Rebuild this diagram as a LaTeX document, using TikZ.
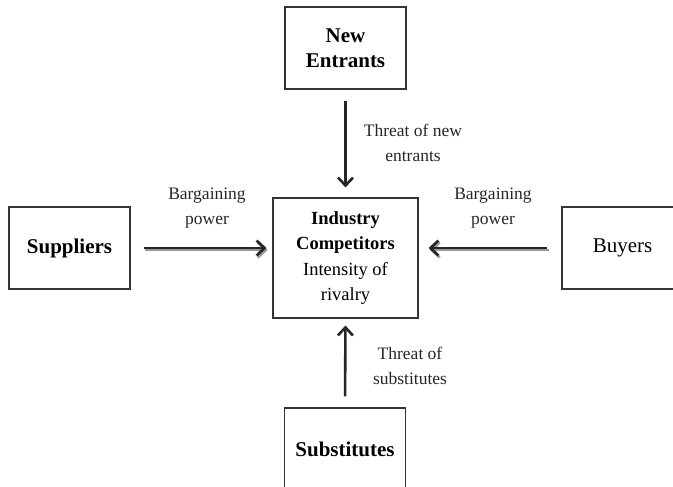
\documentclass[tikz,border=0pt]{standalone}
\usepackage{fontspec}
\setmainfont{Liberation Serif}
\usetikzlibrary{arrows.meta}
\begin{document}
\begin{tikzpicture}[x=1pt,y=-1pt,
  box/.style={draw=black!80, line width=1.1pt, minimum width=121pt, minimum height=82pt, inner sep=0pt, align=center, font=\fontsize{21}{25}\selectfont},
  lbl/.style={align=center, inner sep=0pt, font=\fontsize{17.5}{25}\selectfont, text=black!85},
  arr/.style={draw=black!85, line width=2.6pt, -{Straight Barb[length=8pt,width=15pt]}},
  shadowarr/.style={draw=black!40, line width=2.6pt, -{Straight Barb[length=8pt,width=15pt]}, transform canvas={shift={(1.2pt,-2pt)}}}
]
\useasboundingbox (0,0) rectangle (673,487);
\node[box] (ne) at (345.5,48) {\textbf{New}\\\textbf{Entrants}};
\node[box] (sup) at (69.5,248) {\textbf{Suppliers}};
\node[box] (buy) at (622.5,248) {Buyers};
\node[box] (sub) at (345,449) {\textbf{Substitutes}};
\node[box, minimum width=145pt, minimum height=120pt, font=\fontsize{18.5}{25.5}\selectfont] (ic) at (345.5,258) {\textbf{Industry}\\\textbf{Competitors}\\Intensity of\\rivalry};

\draw[shadowarr, shorten <=13pt, shorten >=6pt] (sup.east |- 0,248) -- (ic.west |- 0,248);
\draw[arr, shorten <=13pt, shorten >=6pt] (sup.east |- 0,248) -- (ic.west |- 0,248);
\draw[shadowarr, shorten <=14pt, shorten >=10pt] (buy.west |- 0,248) -- (ic.east |- 0,248);
\draw[arr, shorten <=14pt, shorten >=10pt] (buy.west |- 0,248) -- (ic.east |- 0,248);
\draw[arr, shorten <=11pt, shorten >=10pt] (ne.south) -- (ic.north);
\draw[arr, shorten <=11pt, shorten >=7pt] (sub.north) -- (ic.south);

\node[lbl] (tn) at (413,142.5) {Threat of new\\entrants};
\node[lbl] (bl) at (207,208.5) {Bargaining\\power};
\node[lbl] (br) at (493,208.5) {Bargaining\\power};
\node[lbl] (ts) at (410,365.5) {Threat of\\substitutes};
\end{tikzpicture}
\end{document}
